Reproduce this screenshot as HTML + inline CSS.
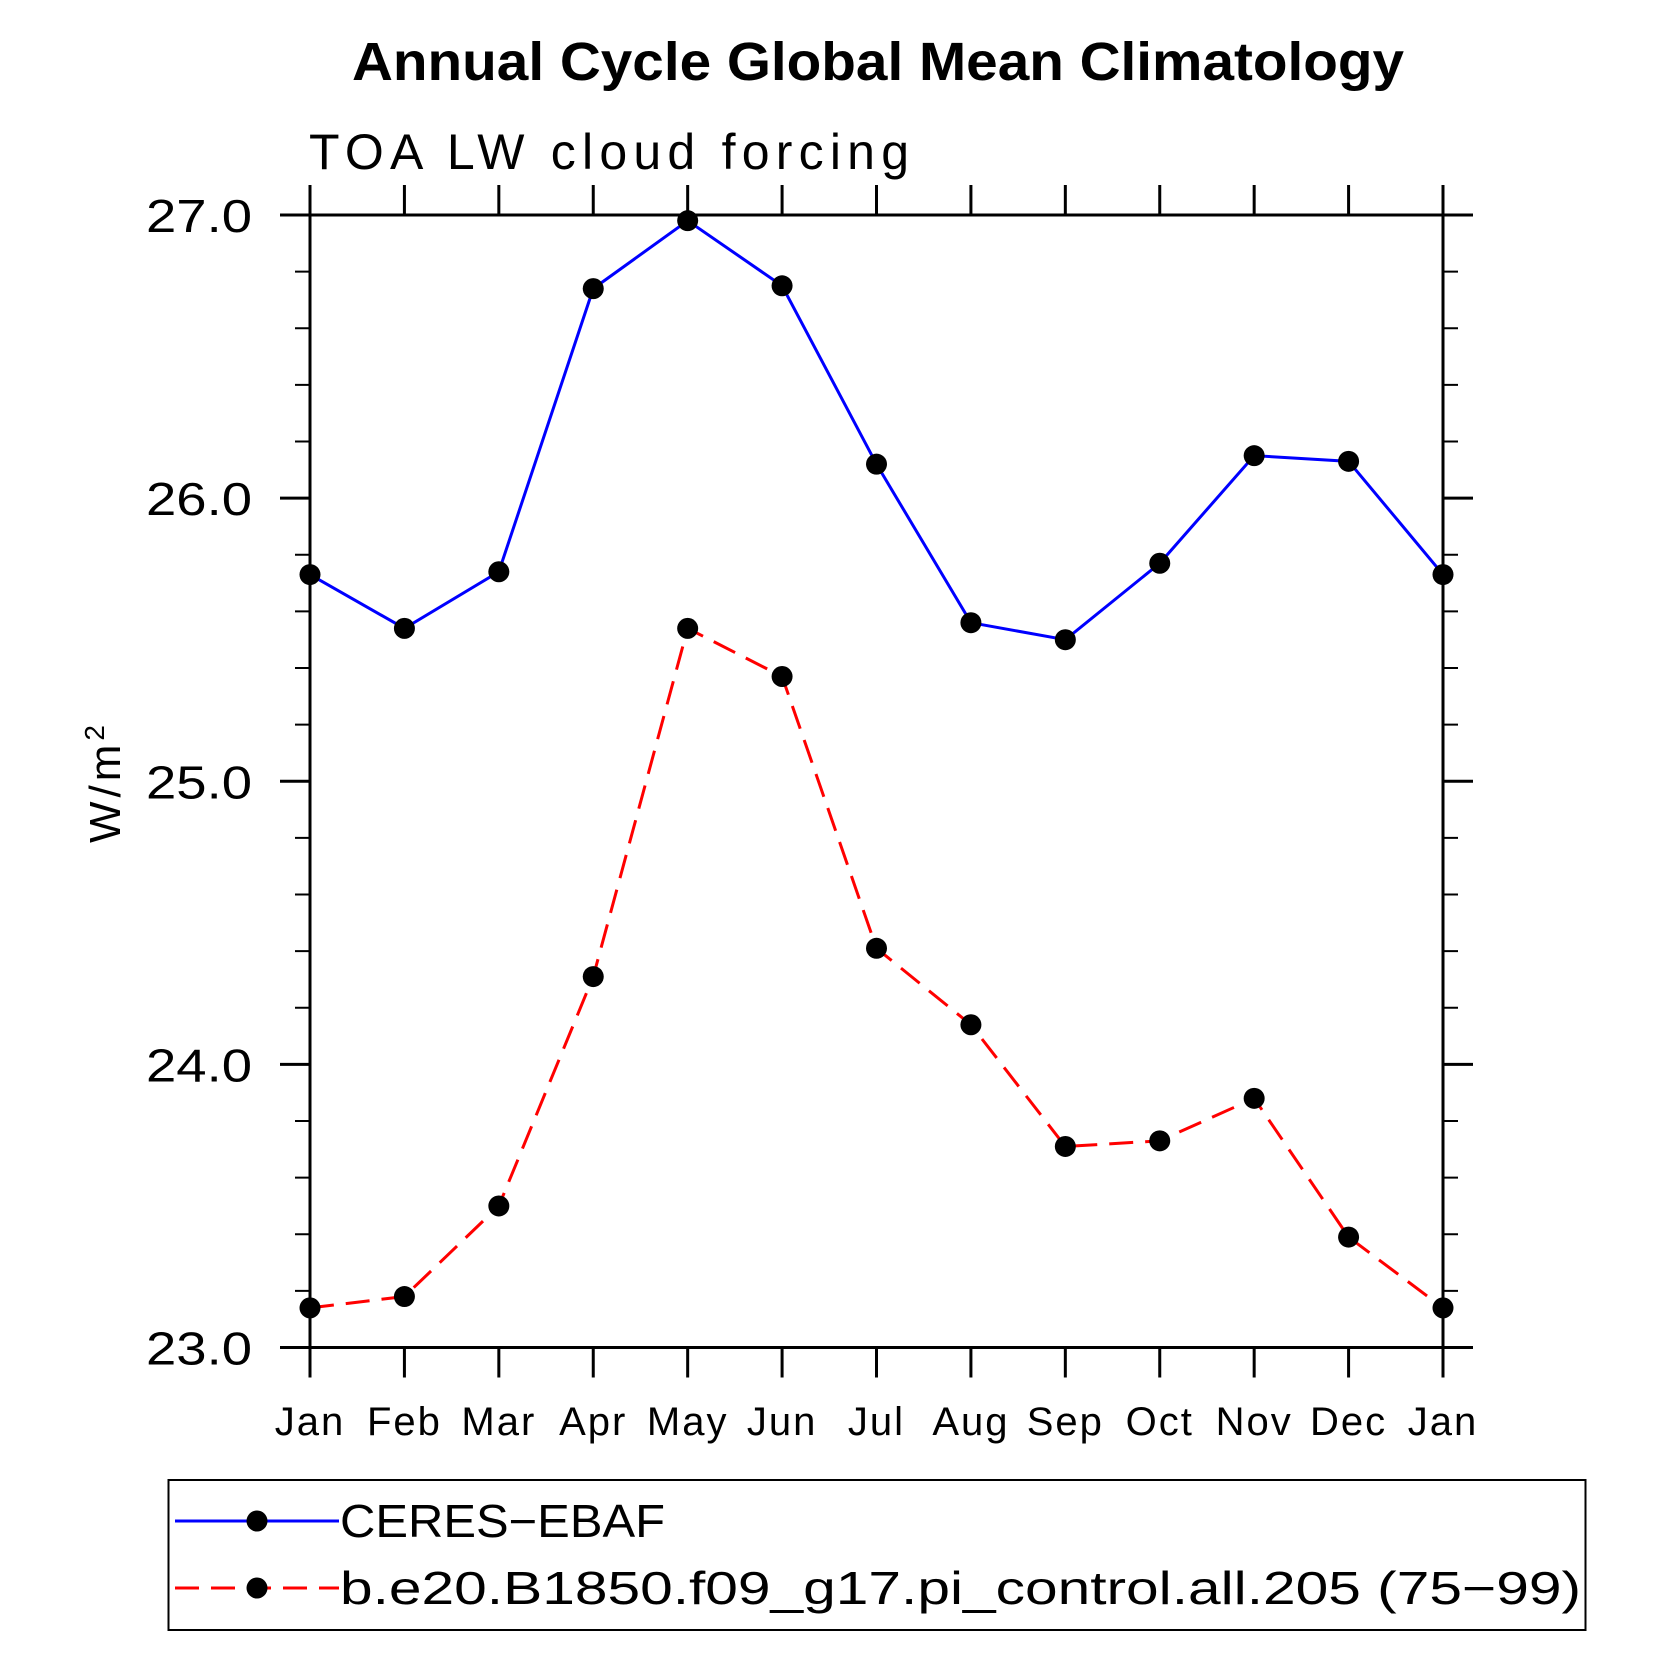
<!DOCTYPE html>
<html><head><meta charset="utf-8"><style>
html,body{margin:0;padding:0;background:#fff}
svg{display:block}
text{font-family:"Liberation Sans",sans-serif;fill:#000}
</style></head><body>
<svg id="chart" width="1669" height="1669" viewBox="0 0 1669 1669" xmlns="http://www.w3.org/2000/svg">
<text x="878" y="80" font-size="54" font-weight="bold" text-anchor="middle" textLength="1052" lengthAdjust="spacingAndGlyphs">Annual Cycle Global Mean Climatology</text>
<text x="309" y="169" font-size="50" textLength="600" lengthAdjust="spacing">TOA LW cloud forcing</text>
<text transform="translate(120,782) rotate(-90)" font-size="44" text-anchor="middle" letter-spacing="4">W/m<tspan dy="-16" font-size="28">2</tspan></text>
<g id="axes"></g>
<g id="series"></g>
<rect x="168.5" y="1480" width="1417" height="150" fill="none" stroke="#000" stroke-width="2"/>
<g>
<line x1="175" y1="1521" x2="339" y2="1521" stroke="#0000ff" stroke-width="3"/>
<circle cx="257" cy="1521" r="10.5" fill="#000"/>
<text x="340" y="1537" font-size="46" textLength="325" lengthAdjust="spacingAndGlyphs">CERES−EBAF</text>
</g>
<g>
<line x1="175" y1="1588" x2="339" y2="1588" stroke="#ff0000" stroke-width="3" stroke-dasharray="24,12"/>
<circle cx="257" cy="1588" r="10.5" fill="#000"/>
<text x="340" y="1604" font-size="46" textLength="1241" lengthAdjust="spacingAndGlyphs">b.e20.B1850.f09_g17.pi_control.all.205 (75−99)</text>
</g>
</svg>
<script>
const months = ["Jan","Feb","Mar","Apr","May","Jun","Jul","Aug","Sep","Oct","Nov","Dec","Jan"];
const ceres = [25.73,25.54,25.74,26.74,26.98,26.75,26.12,25.56,25.50,25.77,26.15,26.13,25.73];
const model = [23.14,23.18,23.50,24.31,25.54,25.37,24.41,24.14,23.71,23.73,23.88,23.39,23.14];
const yTicks = [23.0,24.0,25.0,26.0,27.0];
const yTickLabels = ["23.0","24.0","25.0","26.0","27.0"];

const NS="http://www.w3.org/2000/svg";
const L=310,R=1443,T=215,B=1347.5,yMin=23,yMax=27;
const xs=i=>L+(R-L)*i/(months.length-1);
const ys=v=>B-(B-T)*(v-yMin)/(yMax-yMin);
function mk(tag,attrs,parent){const e=document.createElementNS(NS,tag);for(const k in attrs)e.setAttribute(k,attrs[k]);parent.appendChild(e);return e;}
const axes=document.getElementById('axes');
const frame=mk('rect',{x:L,y:T,width:R-L,height:B-T,fill:'none',stroke:'#000','stroke-width':3},axes);


months.forEach((m,i)=>{
  const x=xs(i);
  const t1=mk('line',{x1:x,y1:B,x2:x,y2:B+30,stroke:'#000','stroke-width':3},axes);
  
  
  const t2=mk('line',{x1:x,y1:T,x2:x,y2:T-30,stroke:'#000','stroke-width':3},axes);
  
  
  const lb=mk('text',{x:x,y:1435,'font-size':40,'text-anchor':'middle','letter-spacing':2},axes);
  lb.textContent=m;
  
  
});
for(let v=yMin;v<=yMax+1e-9;v+=0.2){
  const y=ys(v);const major=Math.abs(v-Math.round(v))<1e-6;const len=major?30:15;
  const a=mk('line',{x1:L-len,y1:y,x2:L,y2:y,stroke:'#000','stroke-width':major?3:2},axes);
  
  
  const b=mk('line',{x1:R,y1:y,x2:R+len,y2:y,stroke:'#000','stroke-width':major?3:2},axes);
  
  
}
yTicks.forEach((v,i)=>{
  const lb=mk('text',{x:146,y:ys(v)+17,'font-size':46,textLength:106,lengthAdjust:'spacingAndGlyphs'},axes);
  lb.textContent=yTickLabels[i];
  
  
});
const series=document.getElementById('series');
function draw(vals,color,dash,name){
  const pts=vals.map((v,i)=>xs(i)+','+ys(v)).join(' ');
  const pl=mk('polyline',{points:pts,fill:'none',stroke:color,'stroke-width':3},series);
  if(dash)pl.setAttribute('stroke-dasharray',dash);
  
  
  vals.forEach((v,i)=>{
    const c=mk('circle',{cx:xs(i),cy:ys(v),r:10.5,fill:'#000'},series);
    
    
  });
}
draw(ceres,'#0000ff',null,'ceres');
draw(model,'#ff0000','24,12','model');
</script>
</body></html>
